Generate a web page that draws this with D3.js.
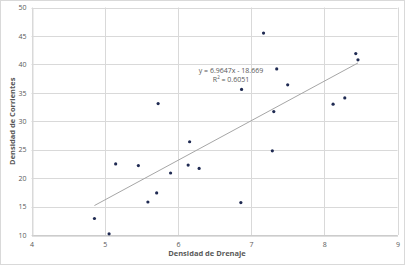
<!DOCTYPE html>
<html>
<head>
<meta charset="utf-8">
<script src="https://cdn.jsdelivr.net/npm/d3@7"></script>
<style>
  html, body { margin: 0; padding: 0; background: #fff; }
  svg { display: block; }
</style>
</head>
<body>
<svg id="chart" width="408" height="267"></svg>
<script>
const xValues = [4.86, 5.06, 5.15, 5.46, 5.59, 5.71, 5.73, 5.90, 6.14, 6.16, 6.29, 6.86, 6.87, 7.17, 7.29, 7.31, 7.35, 7.50, 8.12, 8.28, 8.43, 8.46];
const yValues = [12.9, 10.2, 22.5, 22.2, 15.8, 17.4, 33.1, 20.9, 22.3, 26.4, 21.7, 15.7, 35.6, 45.5, 24.8, 31.7, 39.2, 36.4, 33.0, 34.1, 41.9, 40.8];
const xTicks = [4, 5, 6, 7, 8, 9];
const yTicks = [10, 15, 20, 25, 30, 35, 40, 45, 50];
const slope = 6.9647, intercept = -18.669;
const equationText = "y = 6.9647x - 18.669";
const r2Label = "0.6051";
const xTitle = "Densidad de Drenaje";
const yTitle = "Densidad de Corrientes";

const svg = d3.select("#chart");
const font = "'Open Sans', 'Liberation Sans', sans-serif";

// outer border
svg.append("rect").attr("x", 0.5).attr("y", 0.5).attr("width", 404).attr("height", 264)
  .attr("fill", "#fff").attr("stroke", "#d9d9d9").attr("stroke-width", 1);

const x = d3.scaleLinear().domain([4, 9]).range([31.5, 397.5]);
const y = d3.scaleLinear().domain([10, 50]).range([235, 7.5]);

// grid
svg.append("g").selectAll("line").data(yTicks).join("line")
  .attr("x1", x(4)).attr("x2", x(9))
  .attr("y1", d => Math.round(y(d)) + 0.5).attr("y2", d => Math.round(y(d)) + 0.5)
  .attr("stroke", "#d9d9d9").attr("stroke-width", 1);
svg.append("g").selectAll("line").data(xTicks).join("line")
  .attr("x1", d => Math.round(x(d)) + 0.5).attr("x2", d => Math.round(x(d)) + 0.5)
  .attr("y1", y(10)).attr("y2", y(50))
  .attr("stroke", "#d9d9d9").attr("stroke-width", 1);

// axes
const xAxis = svg.append("g").attr("transform", `translate(0,${Math.round(y(10)) + 0.5})`)
  .call(d3.axisBottom(x).tickValues(xTicks).tickSize(0).tickPadding(7).tickFormat(d3.format("d")));
xAxis.select(".domain").attr("stroke", "#bfbfbf");
xAxis.selectAll("text").attr("fill", "#595959").style("font-family", font).style("font-size", "7px");

const yAxis = svg.append("g").attr("transform", `translate(${Math.round(x(4)) + 0.5},0)`)
  .call(d3.axisLeft(y).tickValues(yTicks).tickSize(0).tickPadding(6).tickFormat(d3.format("d")));
yAxis.select(".domain").attr("stroke", "#d9d9d9");
yAxis.selectAll("text").attr("fill", "#595959").style("font-family", font).style("font-size", "7px");

// trendline
const xMin = d3.min(xValues), xMax = d3.max(xValues);
svg.append("line")
  .attr("x1", x(xMin)).attr("y1", y(slope * xMin + intercept))
  .attr("x2", x(xMax)).attr("y2", y(slope * xMax + intercept))
  .attr("stroke", "#a6a6a6").attr("stroke-width", 1);

// points
svg.append("g").selectAll("circle").data(xValues.map((v, i) => [v, yValues[i]])).join("circle")
  .attr("cx", d => x(d[0])).attr("cy", d => y(d[1])).attr("r", 1.6)
  .attr("fill", "#1f2a52");

// equation
const eq = svg.append("text").attr("x", 231).attr("y", 72.5).attr("text-anchor", "middle")
  .attr("fill", "#595959").style("font-family", font).style("font-size", "7px");
eq.text(equationText);
const r2 = svg.append("text").attr("x", 231).attr("y", 81.5).attr("text-anchor", "middle")
  .attr("fill", "#595959").style("font-family", font).style("font-size", "7px");
r2.append("tspan").text("R");
r2.append("tspan").attr("dy", -2.5).style("font-size", "4.5px").text("2");
r2.append("tspan").attr("dy", 2.5).text(" = " + r2Label);

// axis titles
svg.append("text").attr("x", 207).attr("y", 256).attr("text-anchor", "middle")
  .attr("fill", "#595959").style("font-family", font).style("font-size", "7.5px").style("font-weight", "bold")
  .text(xTitle);
svg.append("text").attr("transform", `translate(15,${(y(10) + y(50)) / 2}) rotate(-90)`)
  .attr("text-anchor", "middle")
  .attr("fill", "#595959").style("font-family", font).style("font-size", "7.5px").style("font-weight", "bold")
  .text(yTitle);
</script>
</body>
</html>
